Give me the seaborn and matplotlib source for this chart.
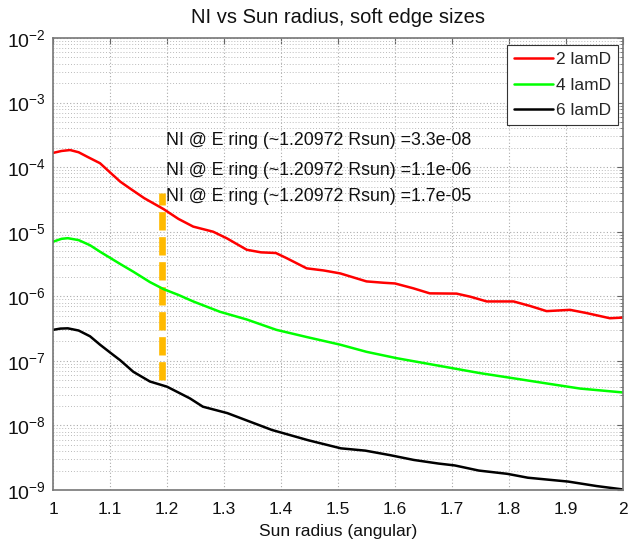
import matplotlib
matplotlib.use("Agg")
import matplotlib.pyplot as plt
import matplotlib.ticker as mticker
import numpy as np
import pandas as pd
import seaborn as sns

# ---- data ----
red_x = [1.000, 1.015, 1.030, 1.045, 1.060, 1.0825, 1.100, 1.118, 1.135, 1.160, 1.194, 1.220,
         1.246, 1.281, 1.305, 1.340, 1.365, 1.391, 1.410, 1.445, 1.475, 1.504, 1.550, 1.580,
         1.600, 1.632, 1.661, 1.708, 1.732, 1.761, 1.808, 1.837, 1.866, 1.907, 1.936, 1.977, 2.000]
red_y = [1.66e-4, 1.78e-4, 1.84e-4, 1.70e-4, 1.45e-4, 1.15e-4, 8.3e-5, 5.96e-5, 4.68e-5, 3.31e-5,
         2.24e-5, 1.58e-5, 1.20e-5, 1.00e-5, 7.9e-6, 5.25e-6, 4.79e-6, 4.68e-6, 3.89e-6, 2.71e-6,
         2.51e-6, 2.26e-6, 1.70e-6, 1.62e-6, 1.58e-6, 1.33e-6, 1.11e-6, 1.10e-6, 9.86e-7, 8.32e-7,
         8.32e-7, 7.08e-7, 5.89e-7, 6.17e-7, 5.50e-7, 4.57e-7, 4.68e-7]

green_x = [1.000, 1.015, 1.026, 1.045, 1.065, 1.0825, 1.118, 1.141, 1.170, 1.194, 1.220, 1.246,
           1.293, 1.340, 1.392, 1.445, 1.504, 1.550, 1.603, 1.686, 1.749, 1.808, 1.866, 1.925, 2.000]
green_y = [7.0e-6, 7.76e-6, 7.94e-6, 7.41e-6, 6.17e-6, 4.90e-6, 3.16e-6, 2.40e-6, 1.66e-6, 1.29e-6,
           1.05e-6, 8.32e-7, 5.75e-7, 4.37e-7, 3.02e-7, 2.34e-7, 1.78e-7, 1.38e-7, 1.10e-7, 8.13e-8,
           6.46e-8, 5.37e-8, 4.47e-8, 3.72e-8, 3.24e-8]

black_x = [1.000, 1.013, 1.026, 1.045, 1.065, 1.0825, 1.100, 1.118, 1.141, 1.170, 1.200, 1.240,
           1.263, 1.306, 1.384, 1.448, 1.505, 1.548, 1.591, 1.633, 1.676, 1.705, 1.747, 1.797,
           1.833, 1.904, 1.954, 2.000]
black_y = [3.02e-7, 3.16e-7, 3.19e-7, 2.95e-7, 2.40e-7, 1.78e-7, 1.35e-7, 1.02e-7, 6.76e-8, 4.79e-8,
           3.98e-8, 2.63e-8, 1.95e-8, 1.55e-8, 8.51e-9, 5.89e-9, 4.42e-9, 4.07e-9, 3.47e-9, 2.92e-9,
           2.57e-9, 2.40e-9, 2.0e-9, 1.78e-9, 1.55e-9, 1.35e-9, 1.15e-9, 1.02e-9]

series_labels = ["2 lamD", "4 lamD", "6 lamD"]
series_colors = ["#ff0000", "#00ff00", "#000000"]

marker_x = [1.1907, 1.1907]
marker_y = [5.0e-8, 4.0e-5]

note_texts = ["NI @ E ring (~1.20972 Rsun) =3.3e-08",
              "NI @ E ring (~1.20972 Rsun) =1.1e-06",
              "NI @ E ring (~1.20972 Rsun) =1.7e-05"]
note_x = 1.198
note_y = [2.55e-4, 9.0e-5, 3.48e-5]

title = "NI vs Sun radius, soft edge sizes"
xlabel = "Sun radius (angular)"
xticks = [1, 1.1, 1.2, 1.3, 1.4, 1.5, 1.6, 1.7, 1.8, 1.9, 2]
xtick_labels = ["1", "1.1", "1.2", "1.3", "1.4", "1.5", "1.6", "1.7", "1.8", "1.9", "2"]
yticks = [1e-9, 1e-8, 1e-7, 1e-6, 1e-5, 1e-4, 1e-3, 1e-2]

df = pd.concat([
    pd.DataFrame({"x": red_x, "y": red_y, "series": series_labels[0]}),
    pd.DataFrame({"x": green_x, "y": green_y, "series": series_labels[1]}),
    pd.DataFrame({"x": black_x, "y": black_y, "series": series_labels[2]}),
], ignore_index=True)

sns.set_style("white")
plt.rcParams["font.family"] = ["Liberation Sans", "DejaVu Sans"]
plt.rcParams["mathtext.fontset"] = "custom"
plt.rcParams["mathtext.rm"] = "Liberation Sans"

fig = plt.figure(figsize=(6.36, 5.42), dpi=100)
ax = fig.add_axes([53 / 636, 52 / 542, 570 / 636, 452 / 542])

sns.lineplot(data=df, x="x", y="y", hue="series", palette=dict(zip(series_labels, series_colors)),
             linewidth=1.8, sort=True, estimator=None, ax=ax)

ax.plot(marker_x, marker_y, color="#ffba00", linewidth=4.8, dashes=(2.75, 1.0),
        solid_capstyle="butt", dash_capstyle="butt", zorder=1.5)

for t, yy in zip(note_texts, note_y):
    ax.text(note_x, yy, t, fontsize=12.8, ha="left", va="center", color="#111111")

ax.set_yscale("log")
ax.set_xlim(1, 2)
ax.set_ylim(1e-9, 1e-2)
ax.set_xticks(xticks)
ax.set_xticklabels(xtick_labels)
ax.yaxis.set_major_locator(mticker.FixedLocator(yticks))
ax.yaxis.set_major_formatter(mticker.LogFormatterSciNotation())
ax.yaxis.set_minor_locator(mticker.LogLocator(base=10, subs=np.arange(2, 10), numticks=20))
ax.yaxis.set_minor_formatter(mticker.NullFormatter())

ax.grid(True, which="major", axis="both", linestyle=(0, (1, 2)), color="#aaaaaa", linewidth=0.8)
ax.yaxis.grid(True, which="minor", linestyle=(0, (1, 2)), color="#bbbbbb", linewidth=0.7)
ax.set_axisbelow(True)

ax.tick_params(which="both", direction="in", top=True, right=True, color="#666666",
               labelcolor="#111111")
ax.tick_params(axis="x", labelsize=12.5, pad=9)
ax.tick_params(axis="y", labelsize=14, pad=5)
ax.tick_params(which="major", length=4, width=0.8)
ax.tick_params(which="minor", length=2.5, width=0.6)
for s in ax.spines.values():
    s.set_color("#777777")
    s.set_linewidth(1.2)

ax.set_title(title, fontsize=14.5, pad=11, color="#111111")
ax.set_xlabel(xlabel, fontsize=12.5, color="#111111", labelpad=5)
ax.set_ylabel("")

leg = ax.legend(loc="upper right", bbox_to_anchor=(1 - 5 / 570, 1 - 7 / 452), borderaxespad=0,
                fontsize=12.5, handlelength=2.25, handletextpad=0.15, labelspacing=0.6,
                fancybox=False, framealpha=1, edgecolor="#333333", borderpad=0.4)
leg.get_frame().set_linewidth(0.8)
for line in leg.get_lines():
    line.set_linewidth(1.8)

fig.savefig("out.png", dpi=100)
